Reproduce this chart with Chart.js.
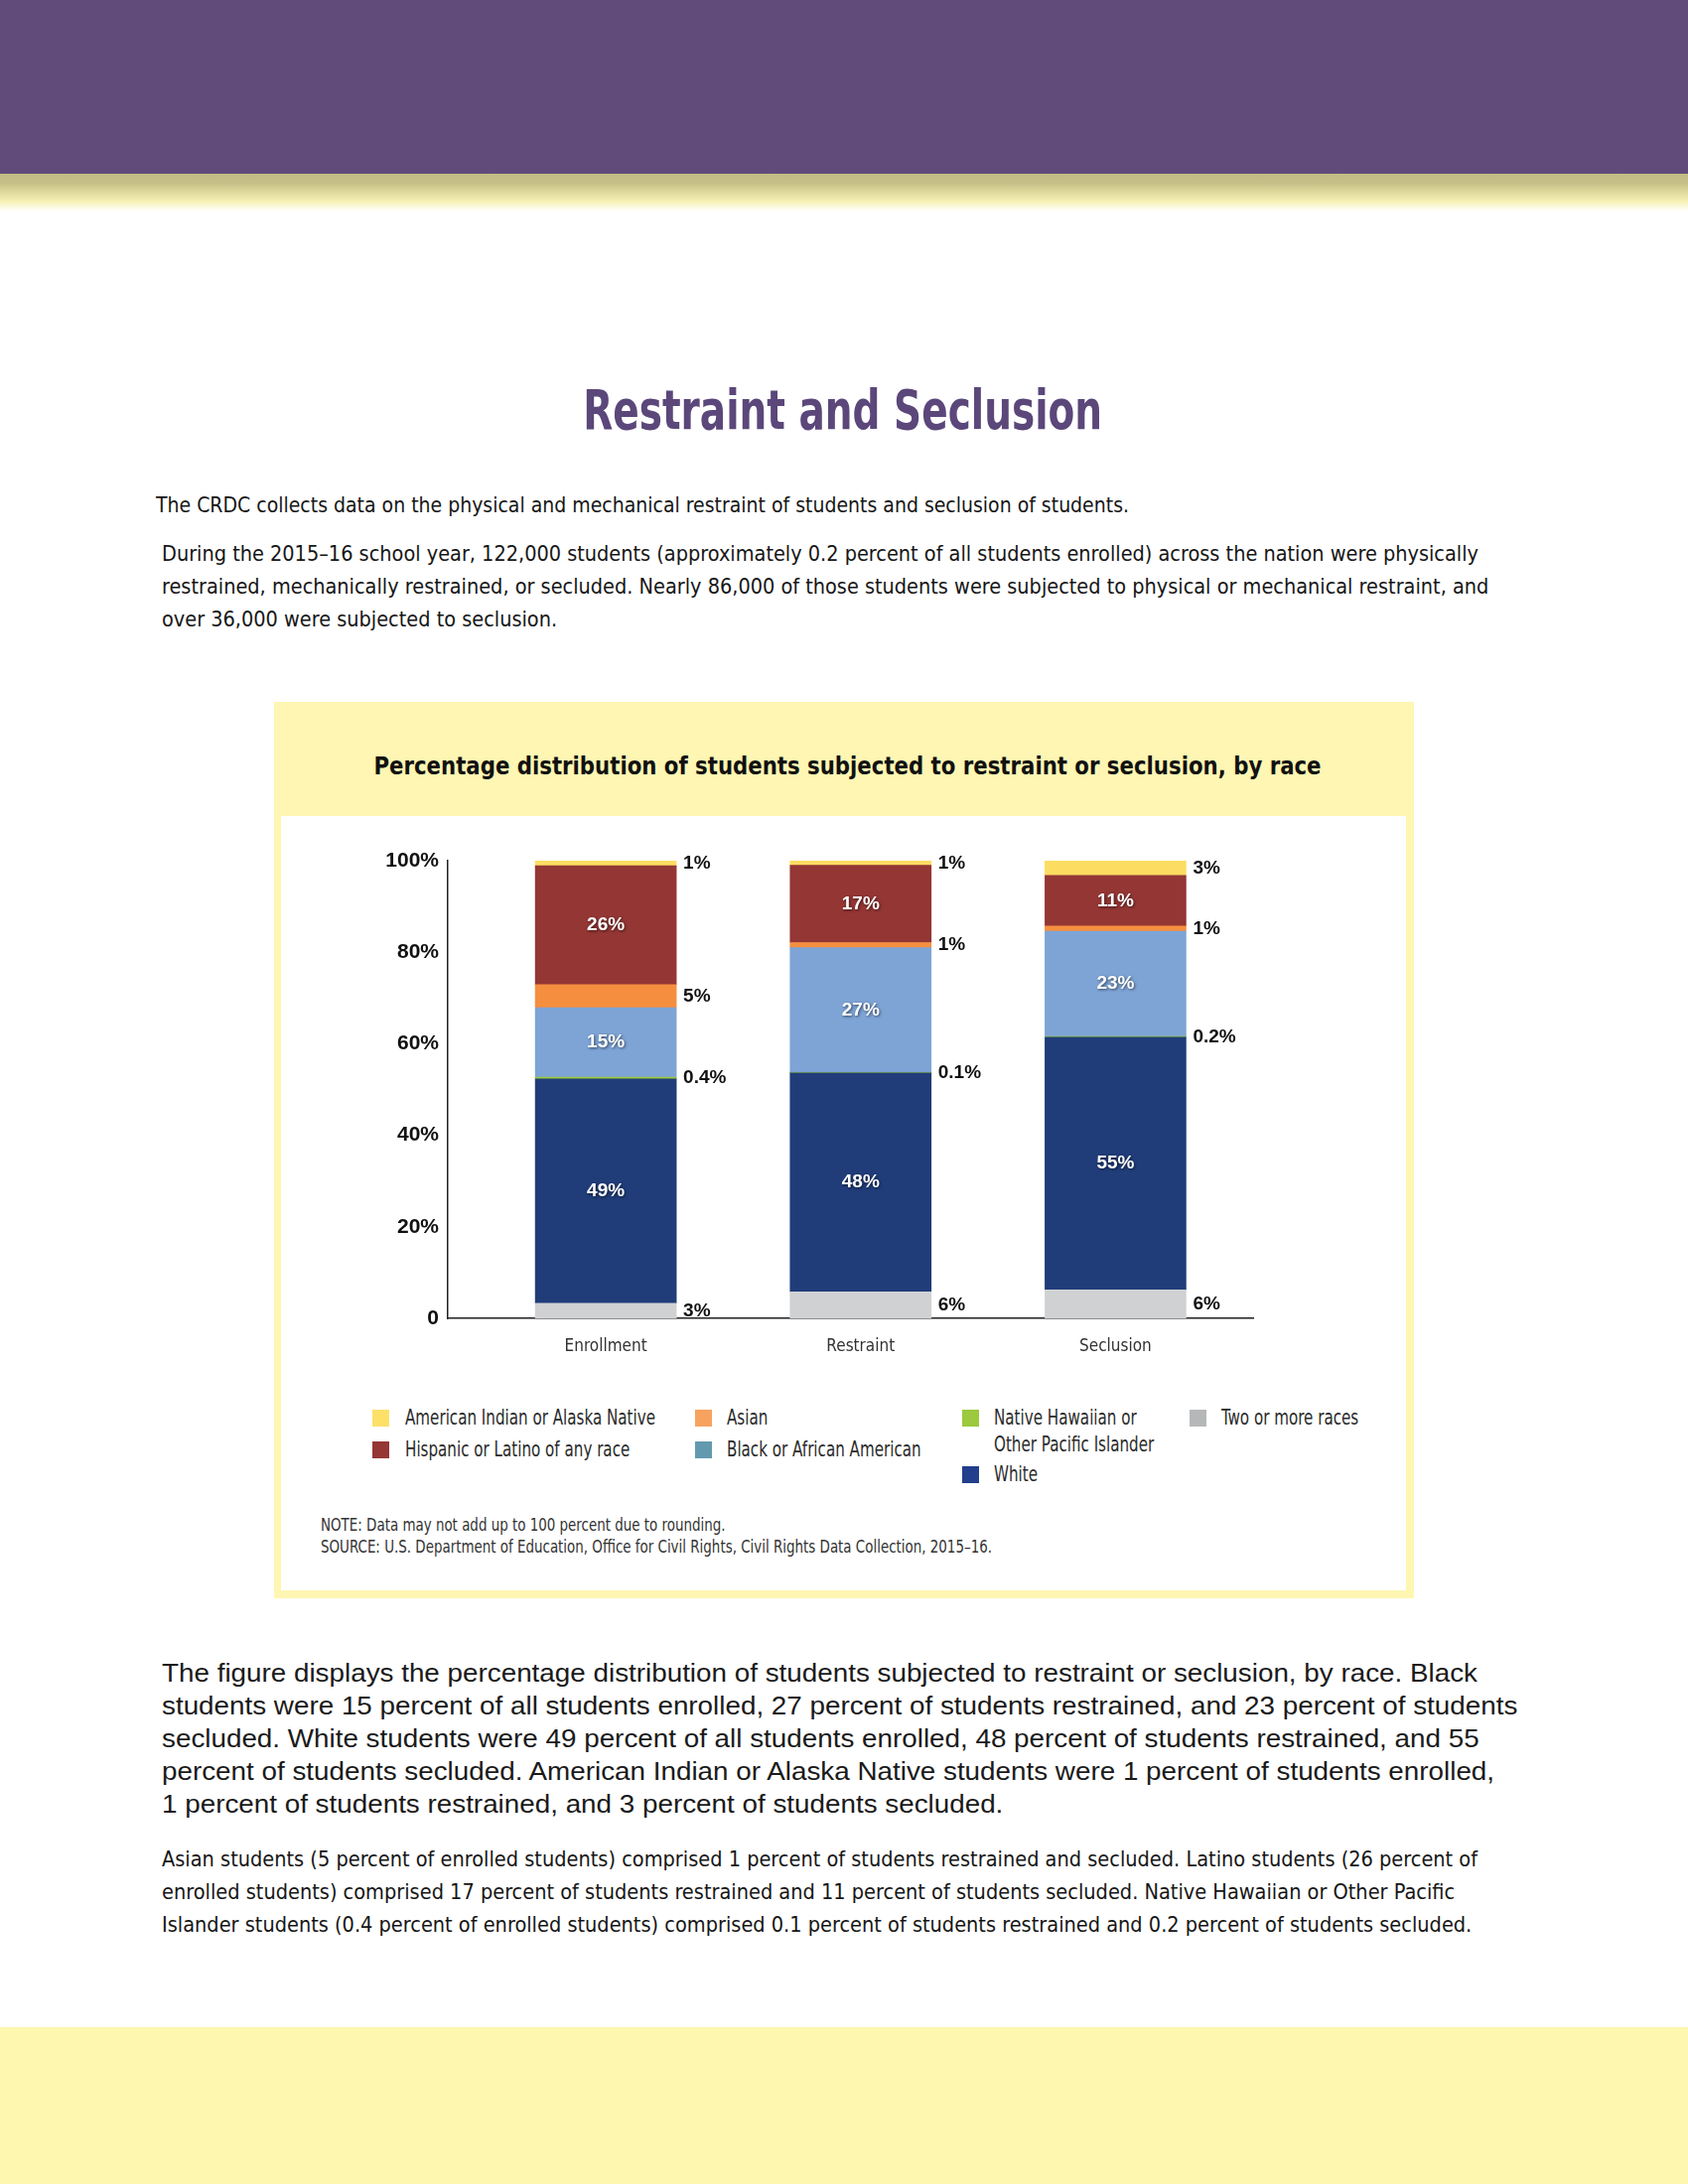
<!DOCTYPE html>
<html>
<head>
<meta charset="utf-8">
<script src="https://cdn.jsdelivr.net/npm/chart.js@4.4.0/dist/chart.umd.min.js"></script>
<style>
  html, body { margin: 0; padding: 0; background: #fff; }
  #page { position: relative; width: 1700px; height: 2200px; overflow: hidden; background: #fff; }
  .band-top { position: absolute; left: 0; top: 0; width: 1700px; height: 175px; background: #604b7b; }
  .band-fade { position: absolute; left: 0; top: 175px; width: 1700px; height: 38px;
    background: linear-gradient(#c2bc85 0%, #c6c088 25%, #f6f1b1 72%, #ffffff 100%); }
  .band-bottom { position: absolute; left: 0; top: 2042px; width: 1700px; height: 158px; background: #fef7b0; }
  .panel { position: absolute; left: 276px; top: 707px; width: 1148px; height: 903px; background: #fef6b2; }
  .panel-inner { position: absolute; left: 283px; top: 822px; width: 1133px; height: 780px; background: #fff; }
  .ln { position: absolute; white-space: nowrap; }
  .sw { position: absolute; width: 17px; height: 17px; }
  #chartBox { position: absolute; left: 360px; top: 840px; width: 920px; height: 540px; }
</style>
</head>
<body>
<div id="page">
  <div class="band-top"></div>
  <div class="band-fade"></div>
  <div class="panel"></div>
  <div class="panel-inner"></div>
  <div id="chartBox"><canvas id="myChart"></canvas></div>
  <div id="legend"></div>
  <div id="texts"></div>
  <div class="band-bottom"></div>
</div>
<script>
// ---- data ----
const categories = ['Enrollment', 'Restraint', 'Seclusion'];
const seriesNames = [
  'Two or more races',
  'White',
  'Native Hawaiian or Other Pacific Islander',
  'Black or African American',
  'Asian',
  'Hispanic or Latino of any race',
  'American Indian or Alaska Native'
];
const twoOrMore = [3.3, 5.8, 6.2];
const white = [49.0, 47.8, 55.2];
const nhpi = [0.4, 0.1, 0.2];
const black = [15.2, 27.3, 23.0];
const asian = [5.0, 1.1, 1.1];
const hispanic = [26.0, 16.9, 11.1];
const aian = [1.1, 1.0, 3.2];
const yTicks = [0, 20, 40, 60, 80, 100];

const series = [twoOrMore, white, nhpi, black, asian, hispanic, aian];
const barColors = ['#d0d1d3', '#203d7a', '#9bc83c', '#7ea4d6', '#f58f3f', '#943634', '#fcdd62'];
const legendColors = ['#b5b7b9', '#213f8c', '#9cc93d', '#6399ae', '#f8a25f', '#943735', '#fde068'];
const labelInside = [false, true, false, true, false, true, false];

// ---- fonts ----
const narrow = '"DejaVu Sans Condensed", "Liberation Sans", sans-serif';
const sans = '"Liberation Sans", Arial, sans-serif';

// ---- page text ----
const groups = {
  title:   { font: narrow, size: 56, weight: 'bold', color: '#5b477a', width: 523, center: true },
  intro:   { font: narrow, size: 22, weight: 'normal', color: '#161616', width: 980 },
  intro2:  { font: narrow, size: 22, weight: 'normal', color: '#161616', width: 1326 },
  ctitle:  { font: narrow, size: 25, weight: 'bold', color: '#111', width: 954, center: true },
  legend:  { font: narrow, size: 21, weight: 'normal', color: '#2b2b2b', width: 252 },
  note:    { font: narrow, size: 17, weight: 'normal', color: '#333', width: 676, ref: 1 },
  body:    { font: sans, size: 26.5, weight: 'normal', color: '#1a1a1a', width: 1325 },
  body2:   { font: narrow, size: 22, weight: 'normal', color: '#161616', width: 1325 }
};
const lines = [
  ['title', 'Restraint and Seclusion', 849, 412],
  ['intro', 'The CRDC collects data on the physical and mechanical restraint of students and seclusion of students.', 157, 509],
  ['intro2', 'During the 2015\u201316 school year, 122,000 students (approximately 0.2 percent of all students enrolled) across the nation were physically', 163, 558],
  ['intro2', 'restrained, mechanically restrained, or secluded.  Nearly 86,000 of those students were subjected to physical or mechanical restraint, and', 163, 591],
  ['intro2', 'over 36,000 were subjected to seclusion.', 163, 624],
  ['ctitle', 'Percentage distribution of students subjected to restraint or seclusion,  by race', 854, 772],
  ['note', 'NOTE:  Data may not add up to 100 percent due to rounding.', 323, 1536],
  ['note', 'SOURCE: U.S. Department of Education, Office for Civil Rights, Civil Rights Data Collection, 2015\u201316.', 323, 1558],
  ['body', 'The figure displays the percentage distribution of students subjected to restraint or seclusion, by race. Black', 163, 1685],
  ['body', 'students were 15 percent of all students enrolled, 27 percent of students restrained, and 23 percent of students', 163, 1718],
  ['body', 'secluded. White students were 49 percent of all students enrolled, 48 percent of students restrained, and 55', 163, 1751],
  ['body', 'percent of students secluded. American Indian or Alaska Native students were 1 percent of students enrolled,', 163, 1784],
  ['body', '1 percent of students restrained, and 3 percent of students secluded.', 163, 1817],
  ['body2', 'Asian students (5 percent of enrolled students) comprised 1 percent of students restrained and secluded. Latino students (26 percent of', 163, 1873],
  ['body2', 'enrolled students) comprised 17 percent of students restrained and 11 percent of students secluded. Native Hawaiian or Other Pacific', 163, 1906],
  ['body2', 'Islander students (0.4 percent of enrolled students) comprised 0.1 percent of students restrained and 0.2 percent of students secluded.', 163, 1939]
];

// legend slots: [series index, swatch x, row center y]
const legendSlots = [
  [6, 375, 1428], [5, 375, 1460],
  [4, 700, 1428], [3, 700, 1460],
  [2, 969, 1428], [1, 969, 1485],
  [0, 1198, 1428]
];
lines.push(['legend', seriesNames[6], 408, 1428]);
lines.push(['legend', seriesNames[5], 408, 1460]);
lines.push(['legend', seriesNames[4], 732, 1428]);
lines.push(['legend', seriesNames[3], 732, 1460]);
lines.push(['legend', 'Native Hawaiian or', 1001, 1428]);
lines.push(['legend', 'Other Pacific Islander', 1001, 1455]);
lines.push(['legend', seriesNames[1], 1001, 1485]);
lines.push(['legend', seriesNames[0], 1230, 1428]);

const legendEl = document.getElementById('legend');
legendSlots.forEach(([si, x, cy]) => {
  const d = document.createElement('div');
  d.className = 'sw';
  d.style.left = x + 'px';
  d.style.top = (cy - 8.5) + 'px';
  d.style.background = legendColors[si];
  legendEl.appendChild(d);
});

const textsEl = document.getElementById('texts');
const byGroup = {};
lines.forEach(([g, txt, x, cy]) => {
  const s = groups[g];
  const d = document.createElement('div');
  d.className = 'ln';
  const lh = Math.round(s.size * 1.2);
  d.style.font = s.weight + ' ' + s.size + 'px ' + s.font;
  d.style.lineHeight = lh + 'px';
  d.style.color = s.color;
  d.style.top = (cy - lh / 2) + 'px';
  d.style.left = x + 'px';
  d.textContent = txt;
  textsEl.appendChild(d);
  (byGroup[g] = byGroup[g] || []).push({ el: d, x: x });
});
// squeeze each text group to the width it has in the picture
Object.keys(byGroup).forEach(g => {
  const s = groups[g];
  const items = byGroup[g];
  const ref = items[s.ref || 0].el;
  const k = s.width / ref.getBoundingClientRect().width;
  items.forEach(it => {
    const w = it.el.getBoundingClientRect().width;
    if (s.center) {
      it.el.style.left = (it.x - w / 2) + 'px';
      it.el.style.transformOrigin = '50% 50%';
    } else {
      it.el.style.transformOrigin = '0 50%';
    }
    it.el.style.transform = 'scaleX(' + k + ')';
  });
});

// ---- chart ----
function fmt(v) {
  return v < 0.5 ? v.toFixed(1) + '%' : Math.round(v) + '%';
}

const barLabels = {
  id: 'barLabels',
  afterDatasetsDraw(chart) {
    const ctx = chart.ctx;
    chart.data.datasets.forEach((ds, i) => {
      const meta = chart.getDatasetMeta(i);
      meta.data.forEach((bar, j) => {
        const p = bar.getProps(['x', 'y', 'base', 'width'], true);
        const cy = (p.y + p.base) / 2;
        const txt = fmt(series[i][j]);
        ctx.save();
        ctx.font = 'bold 19px ' + sans;
        ctx.textBaseline = 'middle';
        if (labelInside[i]) {
          ctx.fillStyle = '#fff';
          ctx.textAlign = 'center';
          ctx.shadowColor = 'rgba(0,0,0,0.6)';
          ctx.shadowBlur = 3;
          ctx.shadowOffsetX = 1;
          ctx.shadowOffsetY = 1;
          ctx.fillText(txt, p.x, cy);
        } else {
          ctx.fillStyle = '#111';
          ctx.textAlign = 'left';
          ctx.fillText(txt, p.x + p.width / 2 + 7, cy);
        }
        ctx.restore();
      });
    });
  }
};

const ctx = document.getElementById('myChart').getContext('2d');
const myChart = new Chart(ctx, {
  type: 'bar',
  data: {
    datasets: series.map((vals, i) => ({
      label: seriesNames[i],
      data: vals.map((v, j) => ({ x: j, y: v })),
      backgroundColor: barColors[i],
      borderWidth: 0,
      barThickness: 142
    }))
  },
  options: {
    responsive: true,
    maintainAspectRatio: false,
    animation: false,
    layout: { padding: { top: 27, right: 18, bottom: 0, left: 0 } },
    plugins: {
      legend: { display: false },
      tooltip: { enabled: false }
    },
    scales: {
      x: {
        type: 'linear',
        stacked: true,
        offset: false,
        min: -0.62,
        max: 2.54,
        grid: { display: false, drawTicks: false },
        border: { display: true, color: '#231f20', width: 1.5 },
        afterBuildTicks: s => { s.ticks = categories.map((c, i) => ({ value: i })); },
        afterFit: s => { s.height = 52; },
        ticks: {
          autoSkip: false,
          maxRotation: 0,
          padding: 18,
          color: '#333',
          font: { family: narrow, size: 17 },
          callback: v => categories[v] !== undefined ? categories[v] : ''
        }
      },
      y: {
        stacked: true,
        min: 0,
        max: 100,
        grid: { display: false, drawTicks: false },
        border: { display: true, color: '#231f20', width: 1.5 },
        afterBuildTicks: s => { s.ticks = yTicks.map(v => ({ value: v })); },
        afterFit: s => { s.width = 91; },
        ticks: {
          padding: 9,
          color: '#111',
          font: { family: sans, size: 21, weight: 'bold' },
          callback: v => v === 0 ? '0' : v + '%'
        }
      }
    }
  },
  plugins: [barLabels]
});
</script>
</body>
</html>
